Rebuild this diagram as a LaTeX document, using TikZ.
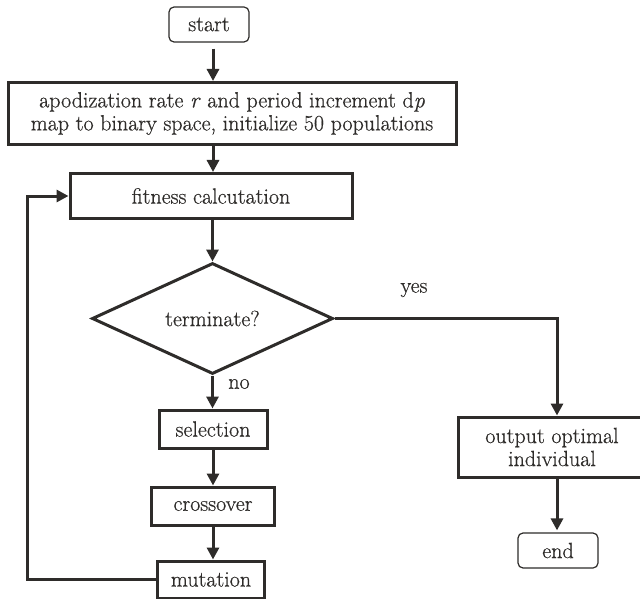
\documentclass[tikz,border=0pt]{standalone}
\usepackage{fontspec}
\setmainfont{Latin Modern Roman}[FakeBold=0.6]
\usetikzlibrary{arrows.meta,shapes.geometric}
\definecolor{ink}{HTML}{2E2C2A}
\begin{document}
\begin{tikzpicture}[x=1pt,y=-1pt,
  font=\fontsize{22}{23}\selectfont,
  every node/.style={text=ink},
  procbox/.style={draw=ink,line width=3pt,rectangle,inner sep=0pt,align=center},
  termbox/.style={draw=ink,line width=1.2pt,rectangle,rounded corners=5pt,inner sep=0pt,align=center},
  arr/.style={draw=ink,line width=3pt,-{Triangle[length=12pt,width=12pt]}},
  lnk/.style={draw=ink,line width=3pt}]
\useasboundingbox[fill=white] (0,0) rectangle (640,599);
\node[termbox,minimum width=80pt,minimum height=35pt] (start) at (209,24.5) {start};
\node[procbox,minimum width=448pt,minimum height=62pt] (init) at (232,113.5)
  {apodization rate \textit{r} and period increment d\textit{p}\\map to binary space, initialize 50 populations};
\node[procbox,minimum width=282pt,minimum height=45pt] (fit) at (211,196) {fitness calcutation};
\node[draw=ink,line width=3pt,diamond,inner sep=0pt,minimum width=241pt,minimum height=111pt] (term) at (212.5,318.5) {terminate?};
\node[procbox,minimum width=108pt,minimum height=38pt] (sel) at (213,429) {selection};
\node[procbox,minimum width=123pt,minimum height=38pt] (cross) at (213,506) {crossover};
\node[procbox,minimum width=107pt,minimum height=37pt] (mut) at (211,579.5) {mutation};
\node[procbox,minimum width=188pt,minimum height=60pt] (out) at (552,447) {output optimal\\individual};
\node[termbox,minimum width=80pt,minimum height=35pt] (end) at (558,550.5) {end};
\coordinate (fb) at (27,0);
\coordinate (yx) at (557,0);
\node (yes) at (414,290) {yes};
\node (no) at (239,384) {no};
\draw[arr,shorten <=6pt] (start.south -| sel) -- (init.north -| sel);
\draw[arr] (init.south -| sel) -- (fit.north -| sel);
\draw[arr] (fit.south -| term) -- (term.north);
\draw[arr] (term.south) -- (sel.north -| term);
\draw[arr] (sel) -- (cross);
\draw[arr] (cross.south) -- (mut.north -| cross);
\draw[arr] (mut.west) -- (mut.west -| fb) -- (fit.west -| fb) -- (fit.west);
\draw[arr] (term.east) -- (term.east -| yx) -- (out.north -| yx);
\draw[arr,shorten >=2pt] (out.south -| yx) -- (end.north -| yx);
\end{tikzpicture}
\end{document}
